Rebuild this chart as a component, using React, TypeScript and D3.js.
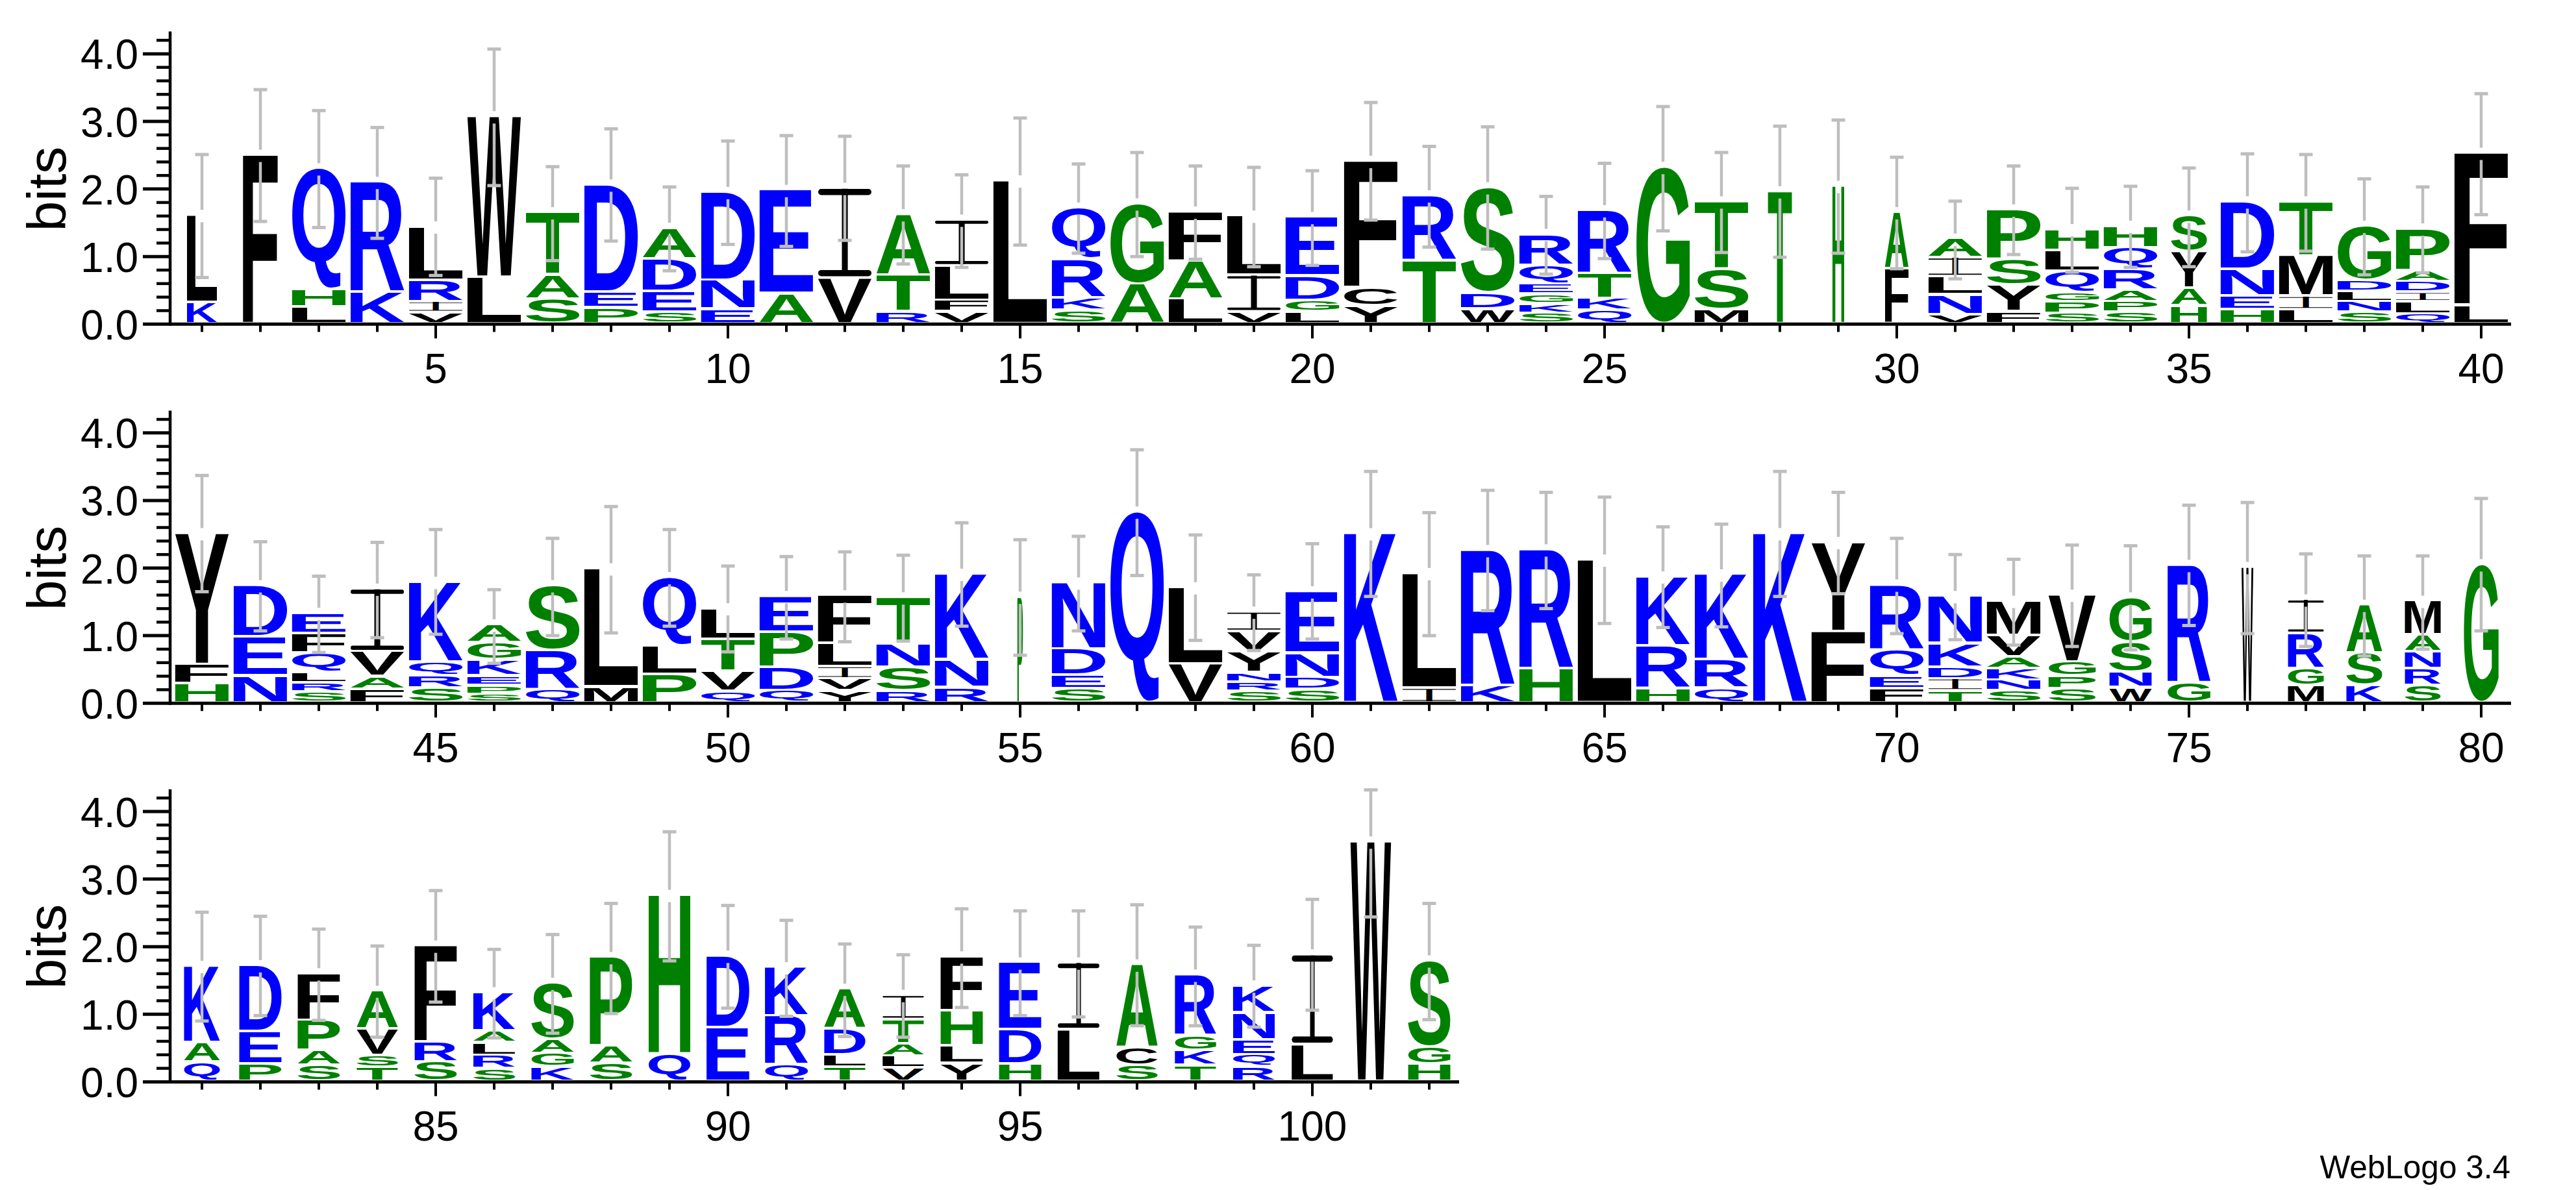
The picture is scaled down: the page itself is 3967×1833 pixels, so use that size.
import React from "react";
import * as d3 from "d3";

const stackLetters = [
  "KL","F","LHQ","KR","VIRL","LW","SAT","PED","SEDA","END","AE","VI","RTA","VFLI","L","SKRQ","AG","LAF","VIL","LGDE",
  "YCF","TR","WDS","SKGEQR","QKTR","G","MST","T","H","FA","VNLIA","FYSP","SPGQLH","SPARQH","HAYS","HEND","LIMT","SNLDG","QLIDAP","LF",
  "HFY","NED","SRLQFE","FAVI","SRQK","SPEKGA","QRS","ML","PLQ","QVTL","QDPE","YVILF","RSNT","RNK","P","SEDN","Q","VL","SRNYVI","SDNE",
  "K","IL","KR","HR","L","HRK","QRK","K","FY","FEQR","TIDKN","SNKAVM","SPGV","WNSG","GR","W","MGRI","KSA","SRNAM","G",
  "QAK","PED","SAPF","TSVA","SRF","SRLAK","KGAS","SAP","QH","ED","QRK","TLDA","VLATI","YLHF","HDE","LI","SCA","TKGR","RQENK","LI","W","HGS",
];
const stackTops = [
  [.31,1.6],[2.49],[.24,.5,2.29],[.46,2.09],[.16,.32,.64,1.43],[.68,3.06],[.36,.72,1.64],[.23,.46,2.05],[.16,.47,.95,1.41],[.21,.64,1.94],
  [.44,1.97],[.67,2.0],[.17,.71,1.61],[.17,.34,.85,1.53],[2.11],[.19,.38,.95,1.71],[.58,1.77],[.36,.92,1.65],[.17,.71,1.59],[.17,.34,.7,1.57],
  [.26,.53,2.4],[.93,1.89],[.21,.45,2.01],[.15,.29,.43,.58,.86,1.32],[.19,.37,.74,1.67],[2.31],[.2,.8,1.8],[1.95],[2.03],[.81,1.64],
  [.13,.42,.69,.97,1.25],[.17,.56,.94,1.68],[.15,.32,.46,.77,1.08,1.39],[.16,.32,.49,.8,1.12,1.44],[.26,.52,1.06,1.59],[.2,.4,.8,1.8],[.2,.4,1.0,1.8],[.16,.32,.47,.63,1.44],[.14,.32,.46,.62,.78,1.4],[.27,2.52],
  [.28,.56,2.5],[.39,.97,1.73],[.15,.29,.44,.73,1.02,1.32],[.19,.38,.75,1.68],[.21,.4,.6,1.78],[.12,.25,.39,.63,.88,1.15],[.19,.77,1.73],[.23,1.98],[.41,.83,1.85],[.16,.46,.93,1.39],
  [.17,.52,1.04,1.57],[.17,.35,.53,.87,1.58],[.17,.52,.87,1.55],[.22,.63,1.9],[1.56],[.2,.4,.79,1.77],[2.82],[.57,1.7],[.16,.3,.44,.75,1.05,1.34],[.19,.37,.73,1.64],
  [2.5],[.21,1.91],[.25,2.25],[.5,2.26],[2.11],[.21,.84,1.86],[.21,.63,1.89],[2.5],[1.05,2.37],[.2,.39,.78,1.74],
  [.17,.35,.52,.87,1.57],[.17,.33,.5,.67,.99,1.5],[.2,.39,.6,1.59],[.22,.45,.89,1.55],[.29,2.03],[2.0],[.25,.5,1.02,1.52],[.25,.73,1.44],[.25,.5,.75,1.0,1.5],[2.04],
  [.28,.57,1.7],[.25,.73,1.71],[.23,.45,.9,1.59],[.2,.38,.77,1.33],[.28,.58,2.0],[.18,.38,.57,.74,1.31],[.21,.41,.62,1.45],[.26,.52,1.83],[.4,2.75],[.79,1.85],
  [.24,.96,1.68],[.2,.39,.77,1.36],[.19,.37,.55,.91,1.27],[.26,.52,1.04,1.84],[.25,.76,1.75],[.76,1.75],[.23,.49,1.72],[.23,.45,.67,1.57],[.21,.39,.61,1.01,1.41],[.54,1.87],[3.54],[.25,.5,1.78],
];
const stackWidths = [
  .56,.65,1,1,1,1,1,1,1,1,1,1,1,1,1,1,1,1,1,1,
  1,1,1,1,1,1,1,.45,.22,.44,1,1,1,1,.67,1,1,1,1,1,
  1,1,1,1,1,1,1,1,1,1,1,1,1,1,.105,1,1,1,1,1,
  1,1,1,1,1,1,1,1,1,1,1,1,.88,.79,.8,.22,.67,.67,.67,.65,
  .67,.79,.79,.77,.79,.78,.79,.79,.78,.8,.8,.77,.77,.79,.79,.78,.77,.77,.78,.77,.76,.79,
];
const errorHigh = [
  2.51,3.47,3.16,2.91,2.16,4.07,2.33,2.89,2.03,2.71,2.79,2.78,2.34,2.21,3.05,2.37,2.54,2.34,2.32,2.27,
  3.28,2.63,2.92,1.89,2.38,3.22,2.54,2.93,3.02,2.47,1.82,2.34,2.01,2.04,2.31,2.52,2.51,2.15,2.03,3.41,
  3.37,2.39,1.88,2.38,2.57,1.68,2.44,2.91,2.57,2.03,2.17,2.24,2.19,2.67,2.42,2.47,3.75,2.49,1.9,2.36,
  3.43,2.82,3.15,3.12,3.05,2.61,2.65,3.43,3.12,2.44,2.2,2.13,2.34,2.33,2.93,2.97,2.21,2.18,2.18,3.03,
  2.51,2.45,2.26,2.01,2.83,1.96,2.18,2.64,3.7,2.61,2.39,2.04,1.88,2.56,2.53,2.53,2.62,2.29,2.02,2.7,4.32,2.64,
];
const errorLow = [
  .69,1.52,1.43,1.27,.72,2.05,.94,1.23,.79,1.18,1.15,1.24,.89,.84,1.17,1.05,1.0,.96,.85,.87,
  1.54,1.14,1.11,.74,.97,1.38,1.06,.99,1.05,.82,.67,1.03,.77,.84,.85,1.07,1.08,.73,.76,1.62,
  1.65,1.07,.75,.97,1.02,.59,1.0,1.04,1.14,.76,.95,.91,.92,1.14,.71,1.07,1.89,.93,.78,.95,
  1.58,1.0,1.37,1.4,1.18,1.12,1.13,1.58,1.62,1.03,.94,.86,.84,.79,1.15,1.03,.84,.7,.8,1.07,
  .9,.98,.91,.66,1.18,.65,.72,1.01,1.79,1.09,.97,.67,.66,1.1,.98,.96,.83,.83,.81,1.06,2.44,.92,
];
const rowRanges = [[1, 40], [41, 80], [81, 102]];
const rowBaselines = [499.3, 1083.2, 1666.4];
const yMajorTicks = [0, 1, 2, 3, 4];
const yMinorTicks = [0.2, 0.4, 0.6, 0.8, 1.2, 1.4, 1.6, 1.8, 2.2, 2.4, 2.6, 2.8, 3.2, 3.4, 3.6, 3.8, 4.2];
const yLabel = "bits";
const credit = "WebLogo 3.4";
const colourGroups: [string, string][] = [
  ["RKDENQ", "#0000ff"],
  ["SGHTAP", "#008000"],
  ["YVMCLFIW", "#000000"],
];

const colourOf = (l: string) => colourGroups.find(([s]) => s.includes(l))![1];

const FONT = '"Liberation Sans", Arial, Helvetica, sans-serif';

// True ink box of a glyph, found by scanning its pixels (in units of a 100px font).
const SCAN = 400;
const canvas = document.createElement("canvas");
canvas.width = 800;
canvas.height = 800;
const ctx = canvas.getContext("2d", { willReadFrequently: true })!;
const inkCache: Record<string, { l: number; r: number; a: number; d: number }> = {};
const ink = (c: string) => {
  if (inkCache[c]) return inkCache[c];
  const ox = 100;
  const oy = 550;
  ctx.clearRect(0, 0, 800, 800);
  ctx.fillStyle = "#000";
  ctx.font = `bold ${SCAN}px ${FONT}`;
  ctx.fillText(c, ox, oy);
  const data = ctx.getImageData(0, 0, 800, 800).data;
  let x0 = 800, x1 = 0, y0 = 800, y1 = 0;
  for (let yy = 0; yy < 800; yy++) {
    for (let xx = 0; xx < 800; xx++) {
      if (data[(yy * 800 + xx) * 4 + 3] > 127) {
        if (xx < x0) x0 = xx;
        if (xx + 1 > x1) x1 = xx + 1;
        if (yy < y0) y0 = yy;
        if (yy + 1 > y1) y1 = yy + 1;
      }
    }
  }
  const k = 100 / SCAN;
  inkCache[c] = { l: (ox - x0) * k, r: (x1 - ox) * k, a: (oy - y0) * k, d: (y1 - oy) * k };
  return inkCache[c];
};

const FULL_W = 82;
const PAD = 0.04;
const BASE = 0.035;

function Glyph({ c, cx, w, top, bottom }: { c: string; cx: number; w: number; top: number; bottom: number }) {
  const fill = colourOf(c);
  const h = bottom - top;
  const box = (ch: string, x0: number, ww: number, y0: number, hh: number) => {
    const m = ink(ch);
    const sx = ww / (m.l + m.r);
    const sy = hh / (m.a + m.d);
    return (
      <text
        x={0}
        y={0}
        fontFamily={FONT}
        fontWeight="bold"
        fontSize={100}
        fill={fill}
        transform={`translate(${x0 + m.l * sx},${y0 + hh - m.d * sy}) scale(${sx},${sy})`}
      >
        {ch}
      </text>
    );
  };
  if (c === "I") {
    const bar = h * 0.07;
    const stem = w * 0.11;
    return (
      <g>
        {box("I", cx - stem / 2, stem, top, h)}
        <rect x={cx - w / 2} y={top} width={w} height={bar} rx={Math.min(w * 0.06, bar / 2)} ry={bar / 2} fill={fill} />
        <rect x={cx - w / 2} y={bottom - bar} width={w} height={bar} rx={Math.min(w * 0.06, bar / 2)} ry={bar / 2} fill={fill} />
      </g>
    );
  }
  return box(c, cx - w / 2, w, top, h);
}

function Row({ first, last, baseline }: { first: number; last: number; baseline: number }) {
  const x = d3.scaleLinear().domain([1, 40]).range([311, 311 + 39 * 90]);
  const xOf = (p: number) => x(p - first + 1);
  const y = d3.scaleLinear().domain([0, 4]).range([baseline, baseline - 416.4]);
  const positions = d3.range(first, last + 1);
  const axisLeft = 262;
  const axisRight = xOf(last) + 46;
  return (
    <g>
      {positions.map((p) => {
        const i = p - 1;
        const cx = xOf(p);
        const w = FULL_W * stackWidths[i];
        const tops = stackTops[i];
        return (
          <g key={p}>
            {stackLetters[i].split("").map((c, k) => (
              <Glyph
                key={k}
                c={c}
                cx={cx}
                w={w}
                top={y(tops[k])}
                bottom={y(k === 0 ? BASE : tops[k - 1] + PAD)}
              />
            ))}
          </g>
        );
      })}
      {positions.map((p) => {
        const i = p - 1;
        const cx = xOf(p);
        const stackTop = y(stackTops[i][stackTops[i].length - 1]);
        const hi = y(errorHigh[i]);
        const lo = y(errorLow[i]);
        return (
          <g key={p} stroke="#bebebe" fill="none">
            <line x1={cx} x2={cx} y1={hi} y2={stackTop - 9.5} strokeWidth={4.5} />
            <line x1={cx} x2={cx} y1={stackTop + 9.5} y2={lo} strokeWidth={4.5} />
            <line x1={cx - 10.5} x2={cx + 10.5} y1={hi} y2={hi} strokeWidth={5} />
            <line x1={cx - 10.5} x2={cx + 10.5} y1={lo} y2={lo} strokeWidth={5} />
          </g>
        );
      })}
      <line x1={axisLeft} x2={axisLeft} y1={y(4.33)} y2={baseline + 2.5} stroke="#000" strokeWidth={4.5} />
      <line x1={axisLeft} x2={axisRight} y1={baseline} y2={baseline} stroke="#000" strokeWidth={5} />
      {yMajorTicks.map((t) => (
        <g key={t}>
          <line x1={220} x2={axisLeft} y1={y(t)} y2={y(t)} stroke="#000" strokeWidth={5} />
          <text x={213} y={y(t) + 23.5} textAnchor="end" fontFamily={FONT} fontSize={64} fill="#000">
            {d3.format(".1f")(t)}
          </text>
        </g>
      ))}
      {yMinorTicks.map((t) => (
        <line key={t} x1={241} x2={axisLeft} y1={y(t)} y2={y(t)} stroke="#000" strokeWidth={4.5} />
      ))}
      {positions.map((p) => (
        <line
          key={p}
          x1={xOf(p)}
          x2={xOf(p)}
          y1={baseline}
          y2={baseline + (p % 5 === 0 ? 22 : 12)}
          stroke="#000"
          strokeWidth={4}
        />
      ))}
      {positions
        .filter((p) => p % 5 === 0)
        .map((p) => (
          <text key={p} x={xOf(p)} y={baseline + 91} textAnchor="middle" fontFamily={FONT} fontSize={64} fill="#000">
            {p}
          </text>
        ))}
      <text
        transform={`translate(101,${y(2)}) rotate(-90)`}
        textAnchor="middle"
        fontFamily={FONT}
        fontSize={84}
        fill="#000"
      >
        {yLabel}
      </text>
    </g>
  );
}

export default function App() {
  return (
    <svg
      width={3967}
      height={1833}
      viewBox="0 0 3967 1833"
      style={{ position: "absolute", left: 0, top: 0, background: "#fff" }}
    >
      {rowRanges.map(([a, b], i) => (
        <Row key={i} first={a} last={b} baseline={rowBaselines[i]} />
      ))}
      <text x={3866} y={1815} textAnchor="end" fontFamily={FONT} fontSize={49.5} fill="#000">
        {credit}
      </text>
    </svg>
  );
}
